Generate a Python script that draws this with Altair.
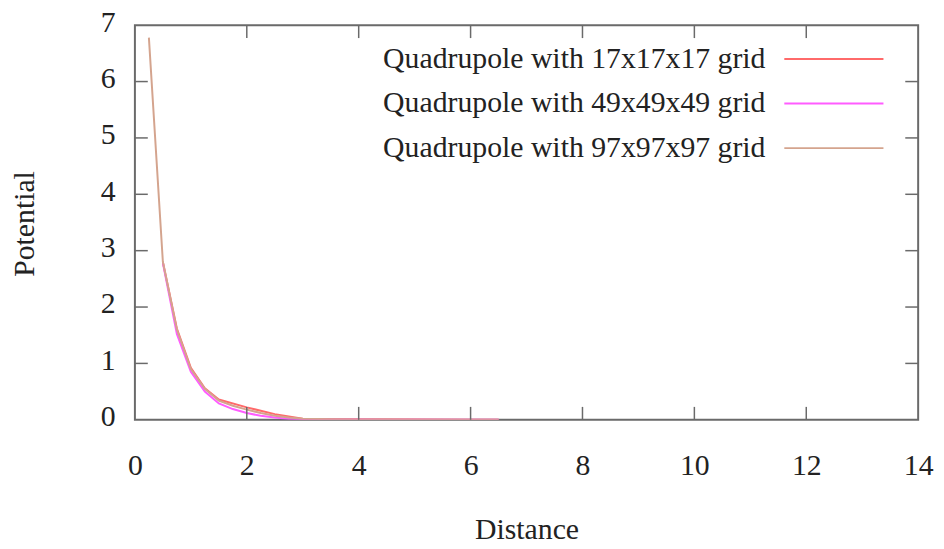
import altair as alt
import pandas as pd

series_names = [
    "Quadrupole with 17x17x17 grid",
    "Quadrupole with 49x49x49 grid",
    "Quadrupole with 97x97x97 grid",
]
series_colors = ["#ff6a6a", "#ff5cff", "#d4a48e"]

x17 = [0.5, 0.75, 1.0, 1.25, 1.5, 2.0, 2.5, 3.0, 4.0, 5.0, 6.0, 6.5]
y17 = [2.80, 1.62, 0.92, 0.56, 0.36, 0.22, 0.10, 0.02, 0.008, 0.003, 0.001, 0.0]

x49 = [0.5, 0.75, 1.0, 1.25, 1.5, 1.75, 2.0, 2.25, 2.5, 2.75, 3.0, 3.5, 4.0, 4.5, 5.0, 5.5, 6.0, 6.5]
y49 = [2.78, 1.52, 0.85, 0.50, 0.29, 0.19, 0.12, 0.07, 0.04, 0.02, 0.01, 0.005, 0.003, 0.002, 0.001, 0.001, 0.0, 0.0]

x97 = [0.25, 0.5, 0.75, 1.0, 1.25, 1.5, 1.75, 2.0, 2.25, 2.5, 2.75, 3.0, 3.5, 4.0, 4.5, 5.0, 5.5, 6.0, 6.5]
y97 = [6.78, 2.80, 1.60, 0.90, 0.55, 0.34, 0.25, 0.18, 0.12, 0.07, 0.04, 0.02, 0.01, 0.005, 0.003, 0.002, 0.001, 0.001, 0.0]

x_ticks = [0, 2, 4, 6, 8, 10, 12, 14]
y_ticks = [0, 1, 2, 3, 4, 5, 6, 7]

rows = []
for name, xs, ys in zip(series_names, [x17, x49, x97], [y17, y49, y97]):
    for a, b in zip(xs, ys):
        rows.append({"series": name, "distance": a, "potential": b})
df = pd.DataFrame(rows)

W, H = 790, 398
FONT = "Liberation Serif"
FS = 30
FRAME = "#6a6a6a"
TICK = 13

xscale = alt.Scale(domain=[0, 14], nice=False, zero=False)
yscale = alt.Scale(domain=[0, 7], nice=False, zero=False)

x_axis = alt.Axis(
    values=x_ticks, format="d", ticks=False, domain=False, grid=False, labelFlush=False,
    labelFont=FONT, labelFontSize=FS, labelColor="#222222", labelPadding=31,
    labelBaseline="top",
    title="Distance", titleFont=FONT, titleFontSize=FS, titleFontWeight="normal",
    titleColor="#222222", titleX=W / 2, titleY=111, titleBaseline="middle",
    titleAlign="center",
)
y_axis = alt.Axis(
    values=y_ticks, format="d", ticks=False, domain=False, grid=False, labelFlush=False,
    labelFont=FONT, labelFontSize=FS, labelColor="#222222", labelPadding=20,
    labelOffset={"expr": "-3"}, labelBaseline="middle",
    title="Potential", titleFont=FONT, titleFontSize=FS, titleFontWeight="normal",
    titleColor="#222222", titleX=-111, titleY=200, titleBaseline="middle",
    titleAlign="center",
)

# a wide horizontal stroke as legend sample
legend = alt.Legend(
    orient="none", legendX=684, legendY=13, title=None,
    symbolType="M-2.5,0H2.5", symbolSize=1600, symbolStrokeWidth=2,
    labelAlign="right", labelOffset={"expr": "-90"}, labelFont=FONT, labelFontSize=FS,
    labelColor="#222222", labelLimit=1000, rowPadding=9,
    padding=0,
)
color = alt.Color(
    "series:N",
    scale=alt.Scale(domain=series_names, range=series_colors),
    legend=legend,
)

base = alt.Chart(df)
layers = []
for i, n in enumerate(series_names):
    layers.append(
        base.transform_filter(alt.datum.series == n)
        .mark_line(strokeWidth=2, clip=True)
        .encode(
            x=alt.X("distance:Q", scale=xscale, axis=x_axis),
            y=alt.Y("potential:Q", scale=yscale, axis=y_axis),
            color=color,
            order=alt.Order("distance:Q"),
        )
    )

xt = pd.DataFrame({"t": x_ticks[1:-1]})
yt = pd.DataFrame({"t": y_ticks[1:-1]})
rule_style = dict(color=FRAME, strokeWidth=1.5)
tick_bottom = alt.Chart(xt).mark_rule(**rule_style).encode(
    x=alt.X("t:Q", scale=xscale), y=alt.value(H), y2=alt.value(H - TICK))
tick_top = alt.Chart(xt).mark_rule(**rule_style).encode(
    x=alt.X("t:Q", scale=xscale), y=alt.value(0), y2=alt.value(TICK))
tick_left = alt.Chart(yt).mark_rule(**rule_style).encode(
    y=alt.Y("t:Q", scale=yscale), x=alt.value(0), x2=alt.value(TICK))
tick_right = alt.Chart(yt).mark_rule(**rule_style).encode(
    y=alt.Y("t:Q", scale=yscale), x=alt.value(W), x2=alt.value(W - TICK))

chart = (
    alt.layer(*layers, tick_bottom, tick_top, tick_left, tick_right)
    .properties(
        width=W, height=H,
        autosize=alt.AutoSizeParams(type="none"),
        padding={"left": 128, "top": 15, "right": 18, "bottom": 128},
        background="white",
    )
    .configure_view(stroke=FRAME, strokeWidth=2)
)

chart.save("out.html", embed_options={"renderer": "svg", "actions": False})
